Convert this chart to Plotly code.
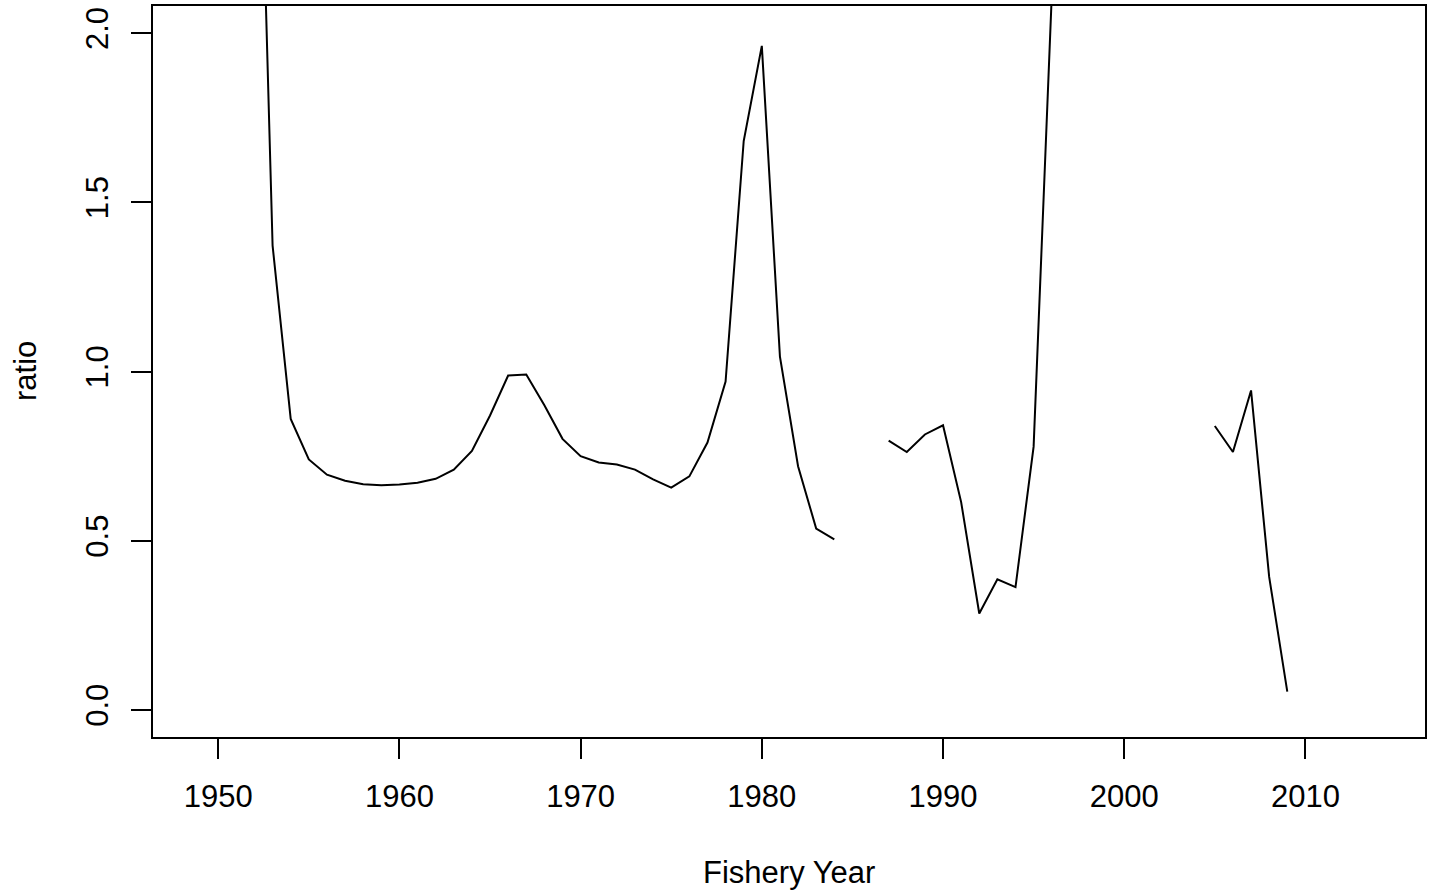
import plotly.graph_objects as go

# Fishery years shown on the axis and the ratio for each (None = no estimate)
years = list(range(1949, 2015))
ratio = [
    None, None, None, 3.30, 1.372, 0.860, 0.740, 0.695, 0.677, 0.667,   # 1949-1958
    0.664, 0.666, 0.671, 0.683, 0.710, 0.765, 0.870, 0.988, 0.991, 0.900,  # 1959-1968
    0.801, 0.750, 0.731, 0.725, 0.710, 0.681, 0.657, 0.690, 0.790, 0.970,  # 1969-1978
    1.681, 1.962, 1.044, 0.720, 0.536, 0.504, None, None, 0.796, 0.762,    # 1979-1988
    0.814, 0.841, 0.614, 0.285, 0.386, 0.363, 0.778, 2.11, None, None,     # 1989-1998
    None, None, None, None, None, None, 0.839, 0.762, 0.944, 0.393,        # 1999-2008
    0.054, None, None, None, None, None,                                   # 2009-2014
]

x_ticks = [1950, 1960, 1970, 1980, 1990, 2000, 2010]
y_ticks = [0.0, 0.5, 1.0, 1.5, 2.0]
y_tick_text = ["0.0", "0.5", "1.0", "1.5", "2.0"]

FONT = "Liberation Sans, Arial, Helvetica, sans-serif"
FS = 31

fig = go.Figure(
    go.Scatter(
        x=years,
        y=ratio,
        mode="lines",
        line=dict(color="black", width=2),
        connectgaps=False,
        showlegend=False,
    )
)

W, H = 1434, 894
L, R, T, B = 153, 9, 4, 157
plot_w, plot_h = W - L - R, H - T - B

axis_common = dict(
    showgrid=False,
    zeroline=False,
    showline=True,
    mirror=True,
    linecolor="black",
    linewidth=2,
    ticks="outside",
    ticklen=20,
    tickwidth=2,
    tickcolor="black",
    tickfont=dict(family=FONT, size=FS, color="black"),
)

fig.update_xaxes(
    range=[1946.4, 2016.6],
    tickvals=x_ticks,
    ticklabelstandoff=11,
    **axis_common,
)
fig.update_yaxes(
    range=[-0.08, 2.08],
    tickvals=y_ticks,
    ticktext=y_tick_text,
    tickangle=-90,
    ticklabelstandoff=11,
    **axis_common,
)


def px_to_paper(px, py):
    return (px - L) / plot_w, (H - B - py) / plot_h


ax_x, ax_y = px_to_paper(789, 873)
ay_x, ay_y = px_to_paper(25, 370)

fig.add_annotation(
    text="Fishery Year", x=ax_x, y=ax_y, xref="paper", yref="paper",
    showarrow=False, xanchor="center", yanchor="middle",
    font=dict(family=FONT, size=FS, color="black"),
)
fig.add_annotation(
    text="ratio", x=ay_x, y=ay_y, xref="paper", yref="paper",
    showarrow=False, xanchor="center", yanchor="middle", textangle=-90,
    font=dict(family=FONT, size=FS, color="black"),
)

fig.update_layout(
    width=W,
    height=H,
    margin=dict(l=L, r=R, t=T, b=B, pad=0),
    paper_bgcolor="white",
    plot_bgcolor="white",
    font=dict(family=FONT, color="black"),
)

fig.write_html("out.html")
